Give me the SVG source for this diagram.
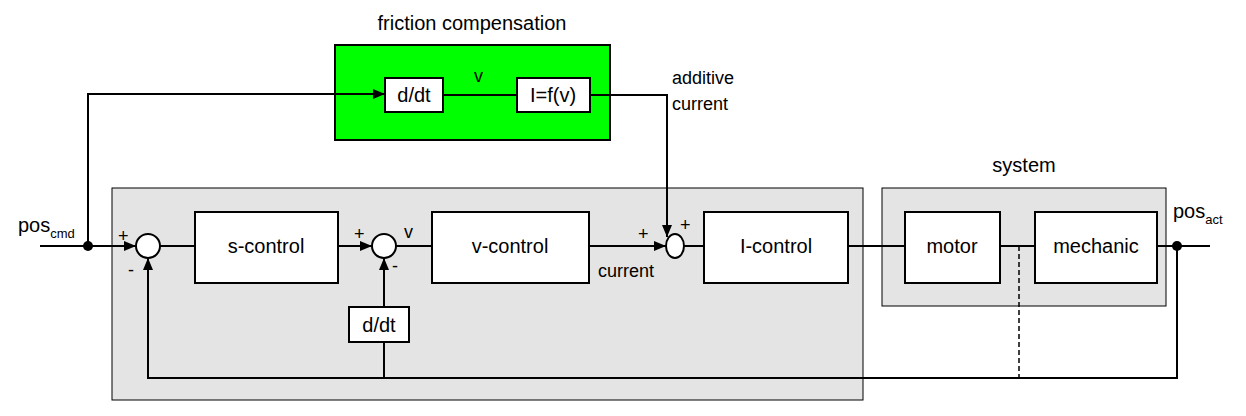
<svg xmlns="http://www.w3.org/2000/svg" width="1246" height="416" viewBox="0 0 1246 416">
<style>
text{font-family:"Liberation Sans",Arial,sans-serif;fill:#000}
.b{fill:#fff;stroke:#000;stroke-width:2}
.g{fill:#e4e4e4;stroke:#000;stroke-width:1}
.l{fill:none;stroke:#000;stroke-width:2}
.t{font-size:20px;text-anchor:middle}
.s{font-size:18px}
</style>
<defs><marker id="a" markerWidth="12" markerHeight="10" refX="12" refY="5" orient="auto" markerUnits="userSpaceOnUse"><path d="M0,0L12,5L0,10Z" fill="#000"/></marker></defs>
<g id="controller"><rect class="g" x="112" y="188" width="751" height="212"/></g>
<g id="system"><rect class="g" x="882" y="188" width="284" height="118"/><text class="t" x="1024" y="172">system</text></g>
<g id="friction"><rect x="335" y="45" width="275" height="95" fill="#00ff00" stroke="#000" stroke-width="2"/><text class="t" x="472" y="30">friction compensation</text></g>
<g id="connectors">
<path class="l" d="M40,246H136" marker-end="url(#a)"/>
<path class="l" d="M88,246V94H385" marker-end="url(#a)"/>
<path class="l" d="M160,246H195M338,246H372" marker-end="url(#a)"/>
<path class="l" d="M396,246H432"/>
<path class="l" d="M589,246H666" marker-end="url(#a)"/>
<path class="l" d="M443,95H517M590,95H667V237" marker-end="url(#a)"/>
<path class="l" d="M684,246H704M848,246H905M1000,246H1035M1157,246H1210"/>
<path class="l" d="M1177,246V378H148V258" marker-end="url(#a)"/>
<path class="l" d="M384,378V342M384,307V258" marker-end="url(#a)"/>
<path d="M1019,246V378" stroke="#000" stroke-width="1.5" stroke-dasharray="5,3"/>
<circle cx="88" cy="246" r="5"/><circle cx="1177" cy="246" r="5"/>
</g>
<g id="sum1"><circle class="b" cx="148" cy="246" r="12"/><text class="s" x="118" y="242">+</text><text class="s" x="128" y="276">-</text></g>
<g id="sum2"><circle class="b" cx="384" cy="246" r="12"/><text class="s" x="354" y="240">+</text><text class="s" x="392" y="272">-</text><text class="s" x="404" y="238">v</text></g>
<g id="sum3"><ellipse class="b" cx="675" cy="246" rx="9" ry="12"/><text class="s" x="638" y="240">+</text><text class="s" x="680" y="231">+</text><text class="s" x="598" y="277">current</text></g>
<g id="scontrol"><rect class="b" x="195" y="212" width="143" height="71"/><text class="t" x="266" y="253">s-control</text></g>
<g id="vcontrol"><rect class="b" x="432" y="212" width="157" height="71"/><text class="t" x="510" y="253">v-control</text></g>
<g id="icontrol"><rect class="b" x="704" y="212" width="144" height="71"/><text class="t" x="776" y="253">I-control</text></g>
<g id="motor"><rect class="b" x="905" y="212" width="95" height="71"/><text class="t" x="952" y="253">motor</text></g>
<g id="mechanic"><rect class="b" x="1035" y="212" width="122" height="71"/><text class="t" x="1096" y="253">mechanic</text></g>
<g id="ddt2"><rect class="b" x="349" y="307" width="60" height="35"/><text class="t" x="379" y="332">d/dt</text></g>
<g id="ddt1"><rect class="b" x="385" y="78" width="58" height="34"/><text class="t" x="414" y="102">d/dt</text></g>
<g id="ifv"><rect class="b" x="517" y="78" width="73" height="34"/><text class="t" x="553" y="102">I=f(v)</text></g>
<text class="s" x="474" y="82">v</text>
<text class="s" x="672" y="84">additive</text><text class="s" x="672" y="110">current</text>
<text font-size="20" x="18" y="232">pos<tspan font-size="13" dy="6">cmd</tspan></text>
<text font-size="20" x="1173" y="218">pos<tspan font-size="13" dy="6">act</tspan></text>
</svg>
